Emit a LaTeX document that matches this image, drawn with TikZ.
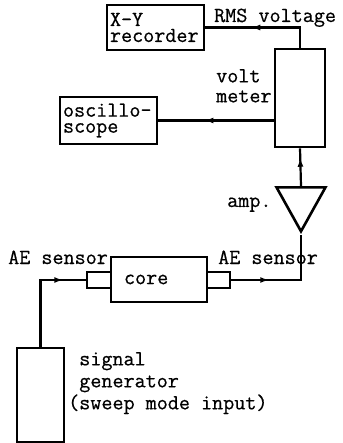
\documentclass[tikz,border=0pt]{standalone}
\usepackage{fontspec}
\setmonofont{Latin Modern Mono}[FakeBold=0.6]
\usetikzlibrary{arrows.meta, decorations.markings, shapes.geometric}
\begin{document}
\begin{tikzpicture}[x=1pt, y=-1pt, every node/.style={align=left}]
\tikzset{
  unit/.style={draw, line width=2.6pt, inner sep=0pt, font=\fontsize{21.5}{16}\selectfont\ttfamily},
  tag/.style={inner sep=0pt, font=\fontsize{21.5}{22}\selectfont\ttfamily},
  wire/.style={line width=2.2pt},
  flow/.style={postaction={decorate}, decoration={markings, mark=at position #1 with {\arrow{Latex[length=9pt, width=6pt]}}}}
}
\useasboundingbox (0,0) rectangle (342,443);

% instruments
\node[unit, minimum width=97, minimum height=45, text width=91, inner xsep=3] (recorder) at (155.5,27.5) {X-Y\\recorder};
\node[unit, minimum width=50, minimum height=98] (voltmeter) at (300,98) {};
\node[unit, minimum width=97, minimum height=47, text width=91, inner xsep=3] (scope) at (108.5,120.5) {oscillo-\\scope};
\node[draw, line width=2.6pt, isosceles triangle, shape border rotate=-90, isosceles triangle stretches, inner sep=0pt, minimum width=49, minimum height=44, anchor=north] (amp) at (301,186) {};
\node[unit, minimum width=96, minimum height=45, text width=70, inner xsep=13] (core) at (159,279.5) {core};
\node[unit, minimum width=24, minimum height=16] (sensorL) at (99,280) {};
\node[unit, minimum width=23, minimum height=16] (sensorR) at (218.5,280) {};
\node[unit, minimum width=47, minimum height=94] (generator) at (40.5,395) {};

% labels
\node[tag, anchor=base west] (rmslbl) at (214,22) {RMS voltage};
\node[tag, anchor=north west, font=\fontsize{21.5}{20}\selectfont\ttfamily] (vmlbl) at (216,69) {volt\\meter};
\node[tag, anchor=base west] (amplbl) at (227,207) {amp.};
\node[tag, anchor=base west] (aelblL) at (8,264) {AE sensor};
\node[tag, anchor=base west] (aelblR) at (218,264) {AE sensor};
\node[tag, anchor=north west] (genlbl) at (68,352) {\hphantom{(}signal\\\hphantom{(}generator\\(sweep mode input)};

% signal path
\draw[wire, flow=0.8] (generator.north) |- (sensorL.west);
\draw[wire, flow=0.33] (sensorR.east) -| (amp.south);
\draw[wire, flow=0.75] (amp.north) -- (voltmeter.south);
\draw[wire, flow=0.6] (voltmeter.north) |- (recorder.east);
\draw[wire, flow=0.6] (voltmeter.west |- scope.east) -- (scope.east);
\end{tikzpicture}
\end{document}
